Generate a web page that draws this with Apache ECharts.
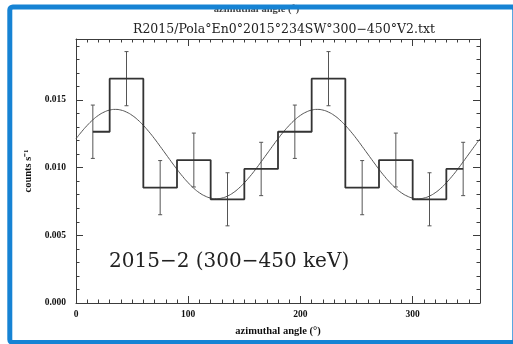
<!DOCTYPE html>
<html>
<head>
<meta charset="utf-8">
<script src="https://cdn.jsdelivr.net/npm/echarts@6/dist/echarts.min.js"></script>
<style>
html,body{margin:0;padding:0;background:#fff;}
#main{width:513px;height:344px;}
</style>
</head>
<body>
<div id="main"></div>
<script>
// 直方图数据 (bin center, counts/s, 1 sigma)
var angles = [15, 45, 75, 105, 135, 165, 195, 225, 255, 285, 315, 345];
var counts = [0.01265, 0.01657, 0.00852, 0.01056, 0.00766, 0.00990,
              0.01265, 0.01657, 0.00852, 0.01056, 0.00766, 0.00990];
var errs   = [0.00197, 0.00200, 0.00200, 0.00199, 0.00196, 0.00197,
              0.00197, 0.00200, 0.00200, 0.00199, 0.00196, 0.00197];
// 拟合曲线, every 5 deg
var fitAngles = [];
for (var a = 0; a <= 360; a += 5) fitAngles.push(a);
var fitCounts = [
	0.01213, 0.01265, 0.01312, 0.01353, 0.01386, 0.01410, 0.01425, 0.01430, 0.01425, 0.01410,
	0.01386, 0.01353, 0.01312, 0.01265, 0.01213, 0.01157, 0.01100, 0.01043, 0.00987, 0.00935,
	0.00888, 0.00847, 0.00814, 0.00790, 0.00775, 0.00770, 0.00775, 0.00790, 0.00814, 0.00847,
	0.00888, 0.00935, 0.00987, 0.01043, 0.01100, 0.01157, 0.01213,
	0.01265, 0.01312, 0.01353, 0.01386, 0.01410, 0.01425, 0.01430, 0.01425, 0.01410,
	0.01386, 0.01353, 0.01312, 0.01265, 0.01213, 0.01157, 0.01100, 0.01043, 0.00987, 0.00935,
	0.00888, 0.00847, 0.00814, 0.00790, 0.00775, 0.00770, 0.00775, 0.00790, 0.00814, 0.00847,
	0.00888, 0.00935, 0.00987, 0.01043, 0.01100, 0.01157, 0.01213
];
var xMax = 360, yMax = 0.0195;
var titleText = 'R2015/Pola°En0°2015°234SW°300−450°V2.txt';
var labelText = '2015−2 (300−450 keV)';

var myChart = echarts.init(document.getElementById('main'));

var histData = [], errData = [], fitData = [];
for (var i = 0; i < angles.length; i++) {
	histData.push([angles[i], counts[i]]);
	errData.push([angles[i], counts[i] - errs[i], counts[i] + errs[i]]);
}
for (var j = 0; j < fitAngles.length; j++) {
	fitData.push([fitAngles[j], fitCounts[j]]);
}

var axisColor = '#3c3c3c';
var tickFont = {color: '#111', fontFamily: 'Liberation Serif', fontWeight: 'bold', fontSize: 9.5};

// 一个坐标轴: 主刻度/次刻度分开画
function mkX(pos, interval, len, main) {
	return {
		type: 'value', position: pos, min: 0, max: xMax, interval: interval,
		axisLine: {show: main, onZero: false, lineStyle: {color: axisColor, width: 1}},
		axisTick: {show: true, inside: true, length: len, lineStyle: {color: axisColor, width: 1}},
		axisLabel: {show: false},
		splitLine: {show: false}
	};
}
function mkY(pos, interval, len, main) {
	return {
		type: 'value', position: pos, min: 0, max: yMax, interval: interval,
		axisLine: {show: main, onZero: false, lineStyle: {color: axisColor, width: 1}},
		axisTick: {show: true, inside: true, length: len, lineStyle: {color: axisColor, width: 1}},
		axisLabel: {show: false},
		splitLine: {show: false}
	};
}

var xBottom = mkX('bottom', 100, 7, true);
xBottom.axisLabel = echarts.util.extend({show: true, margin: 7, showMaxLabel: false}, tickFont);
xBottom.name = 'azimuthal angle (°)';
xBottom.nameLocation = 'middle';
xBottom.nameGap = 23;
xBottom.nameTextStyle = {color: '#111', fontFamily: 'Liberation Serif', fontWeight: 'bold', fontSize: 10.5};

var yLeft = mkY('left', 0.005, 7, true);
yLeft.axisLabel = echarts.util.extend({
	show: true, margin: 10, showMaxLabel: false,
	formatter: function (v) { return v.toFixed(3); }
}, tickFont);
yLeft.name = 'counts s⁻¹';
yLeft.nameLocation = 'middle';
yLeft.nameGap = 40;
yLeft.nameTextStyle = {color: '#111', fontFamily: 'Liberation Serif', fontWeight: 'bold', fontSize: 10.5};

var option = {
	animation: false,
	backgroundColor: '#fff',
	grid: {left: 76, right: 33, top: 39, bottom: 41, containLabel: false},
	title: {
		text: titleText,
		left: 279, top: 18, textAlign: 'center',
		textStyle: {color: '#222', fontFamily: 'DejaVu Serif', fontWeight: 'normal', fontSize: 12.5}
	},
	xAxis: [xBottom, mkX('bottom', 10, 3.5, false), mkX('top', 100, 7, true), mkX('top', 10, 3.5, false)],
	yAxis: [yLeft, mkY('left', 0.001, 3.5, false), mkY('right', 0.005, 7, true), mkY('right', 0.001, 3.5, false)],
	graphic: [
		{
			// 上面被截掉的一行字
			type: 'text', left: 'center', top: 4, z: 1,
			style: {text: 'azimuthal angle (°)', fill: '#444', font: 'bold 10.5px "Liberation Serif"'}
		},
		{
			type: 'text', left: 109, top: 252, z: 5,
			style: {text: labelText, fill: '#222', font: '20px "DejaVu Serif"'}
		},
		{
			// 蓝色边框
			type: 'rect', z: 100, silent: true,
			shape: {x: 9.8, y: 7, width: 505, height: 335.5, r: 3},
			style: {fill: 'none', stroke: '#1683d4', lineWidth: 5}
		}
	],
	series: [
		{
			name: 'fit', type: 'line', data: fitData, smooth: true,
			showSymbol: false, symbol: 'none',
			lineStyle: {color: '#555', width: 1}
		},
		{
			name: 'hist', type: 'line', data: histData, step: 'middle',
			showSymbol: false, symbol: 'none',
			lineStyle: {color: '#333', width: 1.8}
		},
		{
			name: 'err', type: 'custom', data: errData,
			renderItem: function (params, api) {
				var x = api.value(0);
				var pLo = api.coord([x, api.value(1)]);
				var pHi = api.coord([x, api.value(2)]);
				var cap = 2;
				var st = {stroke: '#555', lineWidth: 1};
				return {
					type: 'group',
					children: [
						{type: 'line', shape: {x1: pLo[0], y1: pLo[1], x2: pHi[0], y2: pHi[1]}, style: st},
						{type: 'line', shape: {x1: pLo[0] - cap, y1: pLo[1], x2: pLo[0] + cap, y2: pLo[1]}, style: st},
						{type: 'line', shape: {x1: pHi[0] - cap, y1: pHi[1], x2: pHi[0] + cap, y2: pHi[1]}, style: st}
					]
				};
			}
		}
	]
};
myChart.setOption(option);
</script>
</body>
</html>
